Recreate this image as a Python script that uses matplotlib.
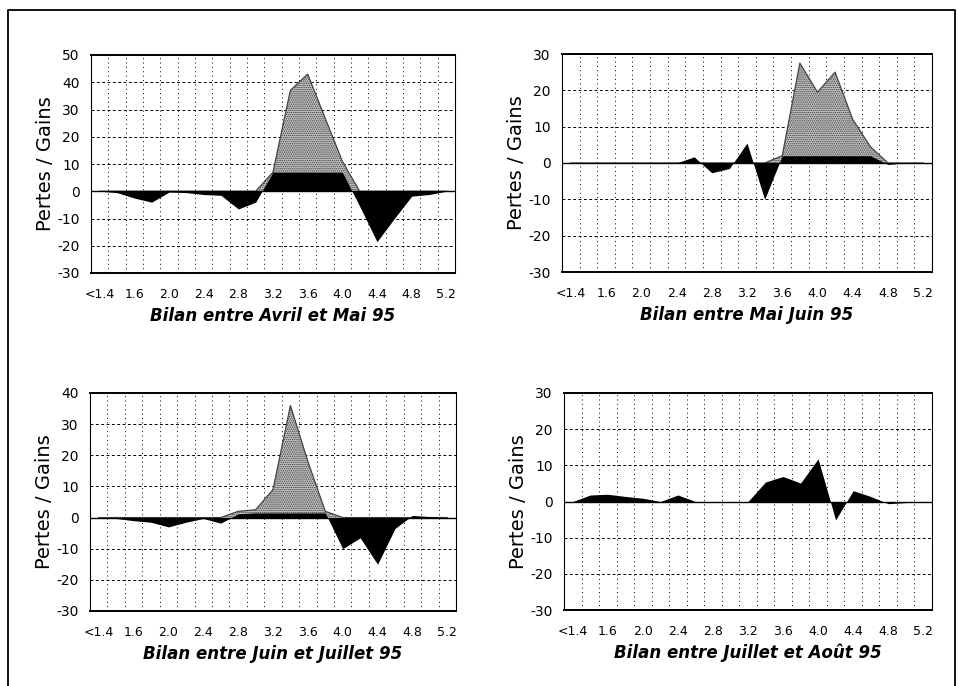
"""Bilans mensuels pertes / gains par classe de taille (avril-aout 95)."""

import matplotlib
matplotlib.use("Agg")
import matplotlib.pyplot as plt
from matplotlib.lines import Line2D
import numpy as np

# Size classes on the x axis (one value every 0.2, label shown every other one)
CATEGORIES = ["<1.4", "1.4", "1.6", "1.8", "2.0", "2.2", "2.4", "2.6", "2.8",
              "3.0", "3.2", "3.4", "3.6", "3.8", "4.0", "4.2", "4.4", "4.6",
              "4.8", "5.0", "5.2"]

# Net balance (black area) and gross gains (stippled area)
NET_AVRIL_MAI = [0, -0.5, -2.5, -4, -0.3, -0.5, -1.2, -1.5, -6.5, -4, 7,
                 7, 7, 7, 7, -5.5, -18.5, -10, -1.8, -1.2, 0]
GAIN_AVRIL_MAI = [0, 0, 0, 0, 0, 0, 0, 0, 0, 0, 7,
                  37, 43, 27, 11, 0, 0, 0, 0, 0, 0]

NET_MAI_JUIN = [0, 0, 0, 0, 0, 0, 0, 1.7, -2.7, -1.5, 5.5,
                -10, 2, 2, 2, 2, 2, 2, -0.4, 0, 0]
GAIN_MAI_JUIN = [0, 0, 0, 0, 0, 0, 0, 0, 0, 0, 0,
                 0, 2, 27.5, 19.5, 25, 12, 4.5, 0, 0, 0]

NET_JUIN_JUILLET = [0, -0.3, -1, -1.5, -3, -1.5, -0.3, -1.8, 1.2, 1.5, 1.5,
                    1.5, 1.5, 1.5, -10, -6.5, -15, -3.5, 0.7, 0.3, 0]
GAIN_JUIN_JUILLET = [0, 0, 0, 0, 0, 0, 0, 0, 2, 2.5, 9,
                     36, 18, 2, 0, 0, 0, 0, 0, 0, 0]

NET_JUILLET_AOUT = [0, 1.8, 2.0, 1.4, 0.9, 0, 1.8, 0, 0, 0, 0,
                    5.4, 6.9, 5.1, 11.8, -5.1, 3.0, 1.4, -0.6, -0.3, 0]

YTICKS_AVRIL_MAI = [-30, -20, -10, 0, 10, 20, 30, 40, 50]
YTICKS_MAI_JUIN = [-30, -20, -10, 0, 10, 20, 30]
YTICKS_JUIN_JUILLET = [-30, -20, -10, 0, 10, 20, 30, 40]
YTICKS_JUILLET_AOUT = [-30, -20, -10, 0, 10, 20, 30]

TITLES = ["Bilan entre Avril et Mai 95", "Bilan entre Mai Juin 95",
          "Bilan entre Juin et Juillet 95", "Bilan entre Juillet et Août 95"]
Y_LABEL = "Pertes / Gains"

# Axes rectangles in pixels of the 958x686 page: left, top, right, bottom
W, H = 958, 686
PANEL_BOXES = [(91, 55, 455, 273), (562, 54, 932, 272),
               (90, 393, 456, 611), (564, 393, 932, 610)]

plt.rcParams["hatch.linewidth"] = 0.7


def draw_panel(ax, net, gain, yticks, title):
    x = np.arange(len(CATEGORIES))
    ax.set_xlim(-0.5, len(CATEGORIES) - 0.5)
    ax.set_ylim(yticks[0], yticks[-1])

    ax.set_xticks(x[::2], CATEGORIES[::2])
    ax.set_xticks(x[1:] - 0.5, minor=True)
    ax.set_yticks(yticks, [str(t) for t in yticks])
    ax.set_axisbelow(True)
    ax.grid(axis="x", which="minor", color="black", lw=0.7, ls=(0, (1, 3.5)))
    ax.grid(axis="y", which="major", color="black", lw=0.7, ls=(0, (3, 2.5)))
    ax.tick_params(which="both", length=0)
    ax.tick_params(axis="x", pad=11, labelsize=9)
    ax.tick_params(axis="y", pad=8, labelsize=10)

    if gain is not None:
        # stippled grey fill of the scanned original
        ax.fill_between(x, 0, gain, facecolor="#c6c6c6", edgecolor="#3c3c3c",
                        hatch="........", lw=0, zorder=2)
        ax.plot(x, gain, color="#444444", lw=0.9, zorder=3)
    ax.fill_between(x, 0, net, color="black", lw=0, zorder=4)
    ax.axhline(0, color="black", lw=1.0, zorder=5)

    for side in ("top", "bottom"):
        ax.spines[side].set_linewidth(1.4)
    for side in ("left", "right"):
        ax.spines[side].set_linewidth(0.8)

    ax.set_xlabel(title, fontsize=12, fontweight="bold", fontstyle="italic",
                  labelpad=4)
    ax.set_ylabel(Y_LABEL, fontsize=14)
    ax.yaxis.set_label_coords(-0.098, 0.5)


def main() -> None:
    fig = plt.figure(figsize=(W / 100, H / 100), dpi=100)

    # page frame around the four charts
    frame = Line2D([8 / W, 8 / W, 955 / W, 955 / W],
                   [-0.01, 1 - 10 / H, 1 - 10 / H, -0.01],
                   transform=fig.transFigure, color="black", lw=1.3)
    fig.add_artist(frame)

    series = [
        (NET_AVRIL_MAI, GAIN_AVRIL_MAI, YTICKS_AVRIL_MAI),
        (NET_MAI_JUIN, GAIN_MAI_JUIN, YTICKS_MAI_JUIN),
        (NET_JUIN_JUILLET, GAIN_JUIN_JUILLET, YTICKS_JUIN_JUILLET),
        (NET_JUILLET_AOUT, None, YTICKS_JUILLET_AOUT),
    ]

    for (left, top, right, bottom), (net, gain, yticks), title in zip(
            PANEL_BOXES, series, TITLES):
        ax = fig.add_axes([left / W, 1 - bottom / H,
                           (right - left) / W, (bottom - top) / H])
        draw_panel(ax, net, gain, yticks, title)

    fig.savefig("out.png", dpi=100)
    plt.close(fig)


if __name__ == "__main__":
    main()
